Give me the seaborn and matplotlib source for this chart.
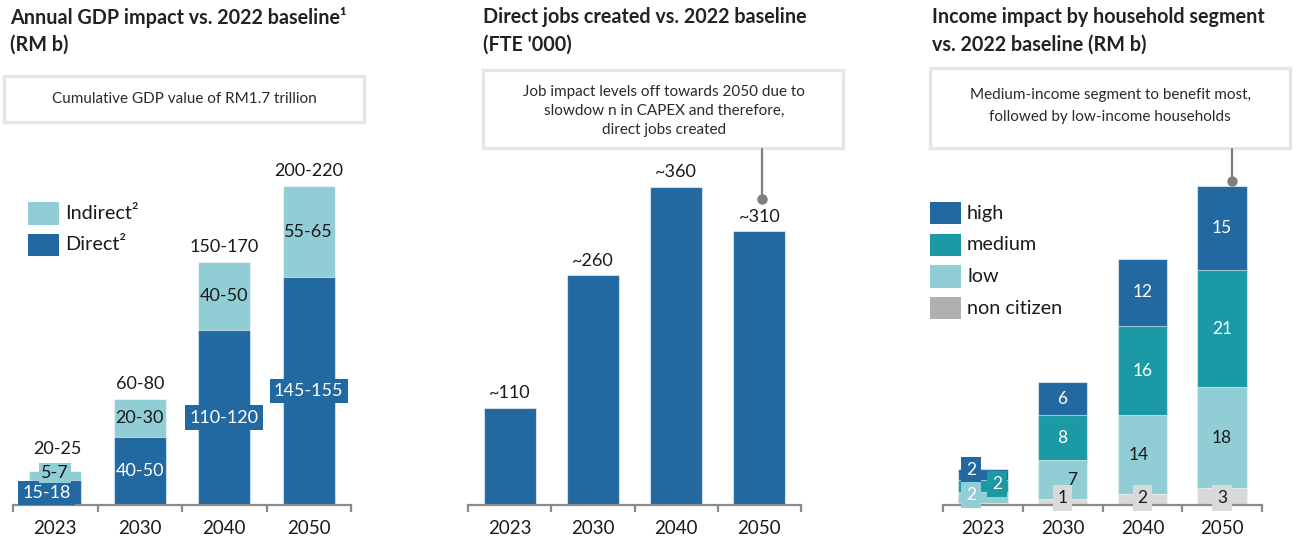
import matplotlib
matplotlib.use("Agg")
import matplotlib.pyplot as plt
import seaborn as sns
import numpy as np
import pandas as pd
from matplotlib.patches import Rectangle
from matplotlib.lines import Line2D

# ---------------- data ----------------
years = ["2023", "2030", "2040", "2050"]

gdp_direct = [16.5, 45, 115, 150]
gdp_indirect = [6, 25, 45, 60]
gdp_direct_labels = ["15-18", "40-50", "110-120", "145-155"]
gdp_indirect_labels = ["5-7", "20-30", "40-50", "55-65"]
gdp_total_labels = ["20-25", "60-80", "150-170", "200-220"]

jobs = [110, 260, 360, 310]
jobs_labels = ["~110", "~260", "~360", "~310"]

inc_noncitizen = [0.4, 1, 2, 3]
inc_low = [2, 7, 14, 18]
inc_medium = [2, 8, 16, 21]
inc_high = [2, 6, 12, 15]
inc_segments = ["non citizen", "low", "medium", "high"]

# ---------------- style ----------------
C_DARK = "#2369a1"
C_MED = "#1b9aa6"
C_LIGHT = "#90cdd4"
C_GRAY = "#d9d9d9"
C_GRAY_LEG = "#b0b0b0"
C_AXIS = "#8a8a8a"
C_TEXT = "#1a1a1a"
C_BOX = "#e6e6e6"

sns.set_theme(style="white")
plt.rcParams["font.family"] = ["Lato", "DejaVu Sans"]

W, H = 1309, 547
fig = plt.figure(figsize=(W / 100, H / 100), dpi=100)


def fx(px):
    return px / W


def fy(py):
    return 1 - py / H


BASE, TOP = 505, 150


def make_ax(x0, x1):
    return fig.add_axes([fx(x0), fy(BASE), fx(x1 - x0), (BASE - TOP) / H])


def stacked(ax, segments, colors, width):
    cum = np.cumsum(np.array(segments, dtype=float), axis=0)
    for i in range(len(segments) - 1, -1, -1):
        df = pd.DataFrame({"year": years, "value": cum[i]})
        sns.barplot(data=df, x="year", y="value", order=years, color=colors[i],
                    width=width, saturation=1, edgecolor=(1, 1, 1, 0.55),
                    linewidth=0.8, errorbar=None, ax=ax)
    return cum


def style_ax(ax, ymax):
    ax.set_xlim(-0.5, 3.5)
    ax.set_ylim(0, ymax)
    for s in ["top", "right", "left"]:
        ax.spines[s].set_visible(False)
    ax.spines["bottom"].set_color(C_AXIS)
    ax.spines["bottom"].set_linewidth(1.6)
    ax.set_yticks([])
    ax.set_xticks([-0.5, 0.5, 1.5, 2.5, 3.5])
    ax.set_xticklabels([])
    ax.tick_params(axis="x", which="major", length=5, width=1.6, color=C_AXIS,
                   direction="out", bottom=True)
    ax.set_xticks(range(4), minor=True)
    ax.set_xticklabels(years, minor=True, fontsize=13.5, color=C_TEXT)
    ax.tick_params(axis="x", which="minor", length=0, pad=11, bottom=True)
    ax.set_xlabel("")
    ax.set_ylabel("")
    ax.patch.set_alpha(0)


def label(ax, x, y, s, color, bg=None, fs=13, pad=0.2):
    bbox = dict(boxstyle=f"square,pad={pad}", fc=bg, ec="none") if bg else None
    ax.text(x, y, s, ha="center", va="center", fontsize=fs, color=color,
            bbox=bbox, zorder=6)


# ---------------- panel 1: GDP ----------------
ax1 = make_ax(13, 351)
cum1 = stacked(ax1, [gdp_direct, gdp_indirect], [C_DARK, C_LIGHT], 0.62)
style_ax(ax1, 233.7)
direct_pos = {0: (-0.1, 7.9)}
indirect_pos = {0: (0.0, 21.0)}
total_pos = {0: (0.02, 36.8)}
boxed_direct = {0, 2, 3}
boxed_indirect = {0}
for i in range(4):
    px, py = direct_pos.get(i, (0, gdp_direct[i] / 2))
    label(ax1, i + px, py, gdp_direct_labels[i], "white",
          C_DARK if i in boxed_direct else None, pad=0.24)
    px, py = indirect_pos.get(i, (0, gdp_direct[i] + gdp_indirect[i] / 2))
    label(ax1, i + px, py, gdp_indirect_labels[i], C_TEXT,
          C_LIGHT if i in boxed_indirect else None, pad=0.12)
    if i in total_pos:
        px, py = total_pos[i]
        ax1.text(i + px, py, gdp_total_labels[i], ha="center", va="center",
                 fontsize=13, color=C_TEXT)
    else:
        ax1.annotate(gdp_total_labels[i], (i, cum1[-1][i]), xytext=(0, 10.8),
                     textcoords="offset points", ha="center", va="center",
                     fontsize=13, color=C_TEXT)

# ---------------- panel 2: jobs ----------------
ax2 = make_ax(468, 801)
df_jobs = pd.DataFrame({"year": years, "jobs": jobs})
sns.barplot(data=df_jobs, x="year", y="jobs", order=years, color=C_DARK,
            width=0.625, saturation=1, edgecolor=(1, 1, 1, 0.55), linewidth=0.8,
            errorbar=None, ax=ax2)
style_ax(ax2, 401.9)
for i in range(4):
    ax2.annotate(jobs_labels[i], (i, jobs[i]), xytext=(0, 10.5),
                 textcoords="offset points", ha="center", va="center",
                 fontsize=13, color=C_TEXT)

# ---------------- panel 3: income ----------------
ax3 = make_ax(943, 1262)
seg_vals = [inc_noncitizen, inc_low, inc_medium, inc_high]
seg_cols = [C_GRAY, C_LIGHT, C_MED, C_DARK]
cum3 = stacked(ax3, seg_vals, seg_cols, 0.62)
style_ax(ax3, 63.4)
FS3 = 12.5
for i in range(4):
    base_low = inc_noncitizen[i]
    base_med = base_low + inc_low[i]
    base_high = base_med + inc_medium[i]
    if i == 0:
        label(ax3, i - 0.15, 6.25, str(inc_high[i]), "white", C_DARK, fs=FS3, pad=0.28)
        label(ax3, i + 0.175, 3.75, str(inc_medium[i]), "white", C_MED, fs=FS3, pad=0.28)
        label(ax3, i - 0.15, 1.8, str(inc_low[i]), "white", C_LIGHT, fs=FS3, pad=0.28)
    else:
        label(ax3, i, base_high + inc_high[i] / 2, str(inc_high[i]), "white", fs=FS3)
        label(ax3, i, base_med + inc_medium[i] / 2, str(inc_medium[i]), "white", fs=FS3)
        dx = 0.12 if i == 1 else -0.05 if i == 2 else 0
        label(ax3, i + dx, base_low + inc_low[i] / 2, str(inc_low[i]), C_TEXT, fs=FS3)
        label(ax3, i, 1.3, str(inc_noncitizen[i]), C_TEXT, C_GRAY, fs=FS3, pad=0.28)

# ---------------- titles ----------------
TFS = 14.2
for x, l1, l2 in [(10, "Annual GDP impact vs. 2022 baseline\u00b9", "(RM b)"),
                  (483, "Direct jobs created vs. 2022 baseline", "(FTE '000)"),
                  (932, "Income impact by household segment", "vs. 2022 baseline (RM b)")]:
    fig.text(fx(x), fy(17), l1, fontsize=TFS, fontweight="bold", color="#222222",
             va="center", ha="left")
    fig.text(fx(x), fy(45), l2, fontsize=TFS, fontweight="bold", color="#222222",
             va="center", ha="left")


# ---------------- callout boxes ----------------
def callout(x0, y0, x1, y1, lines, ys, cx):
    fig.patches.append(Rectangle((fx(x0), fy(y1)), fx(x1 - x0), (y1 - y0) / H,
                                 transform=fig.transFigure, facecolor="white",
                                 edgecolor=C_BOX, linewidth=2.4, zorder=1))
    for t, yy in zip(lines, ys):
        fig.text(fx(cx), fy(yy), t, fontsize=11, color="#2a2a2a",
                 ha="center", va="center", zorder=3)


callout(4, 76, 364, 122, ["Cumulative GDP value of RM1.7 trillion"], [99], 184)
callout(483, 70, 843, 148,
        ["Job impact levels off towards 2050 due to",
         "slowdow n in CAPEX and therefore,",
         "direct jobs created"], [92, 111, 130], 664)
callout(930, 68, 1290, 148,
        ["Medium-income segment to benefit most,",
         "followed by low-income households"], [95, 117], 1110)


def connector(x, y0, y1):
    fig.lines.append(Line2D([fx(x), fx(x)], [fy(y0), fy(y1)], transform=fig.transFigure,
                            color="#7f7f7f", linewidth=1.6, zorder=2))
    fig.lines.append(Line2D([fx(x)], [fy(y1)], transform=fig.transFigure, marker="o",
                            markersize=6.5, color="#7f7f7f", zorder=2))


connector(762, 149, 199)
connector(1232, 149, 181)


# ---------------- legends ----------------
def legend_item(x, ytop, ybot, color, text, tx):
    fig.patches.append(Rectangle((fx(x), fy(ybot)), fx(31), (ybot - ytop) / H,
                                 transform=fig.transFigure, facecolor=color,
                                 edgecolor="none"))
    fig.text(fx(tx), fy((ytop + ybot) / 2), text, fontsize=14.3, color=C_TEXT,
             ha="left", va="center")


legend_item(28, 202, 225, C_LIGHT, "Indirect\u00b2", 65)
legend_item(28, 234, 256, C_DARK, "Direct\u00b2", 65)

leg_rows = [(202, 224), (234, 256), (265, 288), (297, 319)]
leg_cols = [C_DARK, C_MED, C_LIGHT, C_GRAY_LEG]
for (yt, yb), col, name in zip(leg_rows, leg_cols, inc_segments[::-1]):
    legend_item(930, yt, yb, col, name, 967)

fig.savefig("out.png", dpi=100)
